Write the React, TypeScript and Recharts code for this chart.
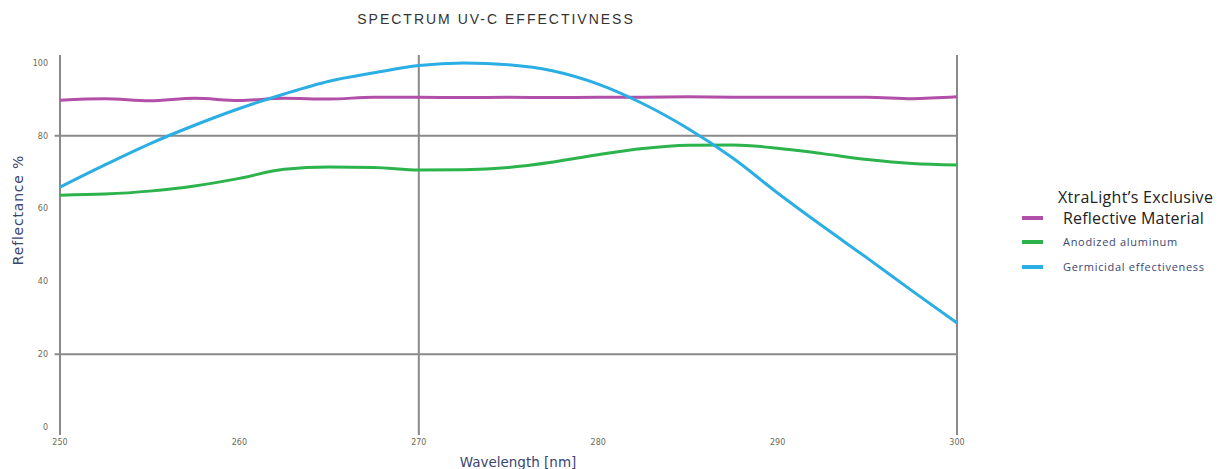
import React from "react";
import { LineChart, Line, XAxis, YAxis, ReferenceLine } from "recharts";

const wavelengths = [
  250, 252.5, 255, 257.5, 260, 262.5, 265, 267.5, 270, 272.5, 275, 277.5, 280,
  282.5, 285, 287.5, 290, 292.5, 295, 297.5, 300,
];
const xtralight = [
  89.8, 90.2, 89.6, 90.3, 89.7, 90.3, 90.1, 90.6, 90.6, 90.5, 90.6, 90.5, 90.6,
  90.6, 90.7, 90.6, 90.6, 90.6, 90.6, 90.2, 90.7,
];
const anodized = [
  63.7, 64.0, 64.8, 66.2, 68.3, 70.8, 71.4, 71.3, 70.6, 70.7, 71.3, 72.8, 74.8,
  76.5, 77.4, 77.5, 76.6, 75.1, 73.5, 72.4, 72.0,
];
const germicidal = [
  65.9, 72.0, 77.8, 82.9, 87.5, 91.5, 95.0, 97.3, 99.3, 100, 99.5, 97.8, 94.2,
  88.8, 82.0, 73.9, 64.3, 55.2, 46.4, 37.4, 28.6,
];
const xTicks = [250, 260, 270, 280, 290, 300];
const yTicks = [0, 20, 40, 60, 80, 100];

const data = wavelengths.map((w, i) => ({
  w,
  xtralight: xtralight[i],
  anodized: anodized[i],
  germicidal: germicidal[i],
}));

const MAGENTA = "#b24fa9";
const GREEN = "#2cb34c";
const BLUE = "#2aaee4";
const GRID = "#8a8a8a";
const AXIS_TEXT = "#3b4670";
const TICK = { fill: "#6b6a55", fontSize: 8, fontFamily: "DejaVu Sans" };

function LegendBox() {
  const row = (color: string, label: string, small: boolean, gap: number) => (
    <div style={{ display: "flex", alignItems: "center", marginBottom: gap, height: small ? 14 : 18 }}>
      <div style={{ width: 21, height: 4, background: color, marginRight: 20 }} />
      <div
        style={{
          fontSize: small ? 11 : 16,
          letterSpacing: small ? 0.7 : 0.2,
          color: small ? AXIS_TEXT : "#222",
          lineHeight: small ? "14px" : "18px",
          whiteSpace: "nowrap",
          fontFamily: "'Open Sans', sans-serif",
        }}
      >
        {label}
      </div>
    </div>
  );
  return (
    <div style={{ position: "absolute", left: 1014, top: 201, width: 205 }}>
      <div
        style={{
          position: "absolute",
          left: 36,
          top: -21,
          height: 18,
          lineHeight: "18px",
          fontSize: 16,
          letterSpacing: 0.3,
          color: "#222",
          whiteSpace: "nowrap",
          fontFamily: "'Open Sans', sans-serif",
        }}
      >
        XtraLight’s Exclusive
      </div>
      {row(MAGENTA, "Reflective Material", false, 8)}
      {row(GREEN, "Anodized aluminum", true, 11)}
      {row(BLUE, "Germicidal effectiveness", true, 0)}
    </div>
  );
}

export default function App() {
  return (
    <div style={{ position: "relative", width: 1209, height: 461 }}>
      <div
        style={{
          position: "absolute",
          left: 0,
          width: 976,
          top: 3,
          textAlign: "center",
          fontSize: 14,
          letterSpacing: 2,
          color: "#333",
          fontFamily: "'Liberation Sans', Arial, sans-serif",
        }}
      >
        SPECTRUM UV-C EFFECTIVNESS
      </div>
      <div
        style={{
          position: "absolute",
          left: 410,
          width: 200,
          top: 446,
          textAlign: "center",
          fontSize: 13.5,
          color: AXIS_TEXT,
          fontFamily: "DejaVu Sans",
        }}
      >
        Wavelength [nm]
      </div>
      <div
        style={{
          position: "absolute",
          left: 10 - 100,
          width: 200,
          top: 202 - 9,
          height: 18,
          lineHeight: "18px",
          textAlign: "center",
          fontSize: 14,
          letterSpacing: 0.8,
          color: AXIS_TEXT,
          fontFamily: "DejaVu Sans",
          transform: "rotate(-90deg)",
        }}
      >
        Reflectance %
      </div>
      <LegendBox />
      <LineChart
        width={1209}
        height={461}
        data={data}
        margin={{ top: 55, right: 260, left: 12, bottom: 12 }}
      >
        <XAxis
          dataKey="w"
          type="number"
          domain={[250, 300]}
          ticks={xTicks}
          axisLine={false}
          tickLine={false}
          tick={TICK}
          height={30}
          tickMargin={6}
        />
        <YAxis
          type="number"
          domain={[0, 100]}
          ticks={yTicks}
          axisLine={false}
          tickLine={false}
          tick={TICK}
          width={40}
          tickMargin={6}
        />
        <ReferenceLine
          segment={[{ x: 249.7, y: 80 }, { x: 300, y: 80 }]}
          stroke={GRID}
          strokeWidth={2}
          ifOverflow="visible"
        />
        <ReferenceLine
          segment={[{ x: 249.7, y: 20 }, { x: 300, y: 20 }]}
          stroke={GRID}
          strokeWidth={2}
          ifOverflow="visible"
        />
        {[250, 270, 300].map((v) => (
          <ReferenceLine
            key={v}
            segment={[{ x: v, y: -2.2 }, { x: v, y: 102.2 }]}
            stroke={GRID}
            strokeWidth={2}
            ifOverflow="visible"
          />
        ))}
        <Line
          type="monotone"
          dataKey="xtralight"
          stroke={MAGENTA}
          strokeWidth={3}
          dot={false}
          isAnimationActive={false}
        />
        <Line
          type="monotone"
          dataKey="anodized"
          stroke={GREEN}
          strokeWidth={3}
          dot={false}
          isAnimationActive={false}
        />
        <Line
          type="monotone"
          dataKey="germicidal"
          stroke={BLUE}
          strokeWidth={3}
          dot={false}
          isAnimationActive={false}
        />
      </LineChart>
    </div>
  );
}
